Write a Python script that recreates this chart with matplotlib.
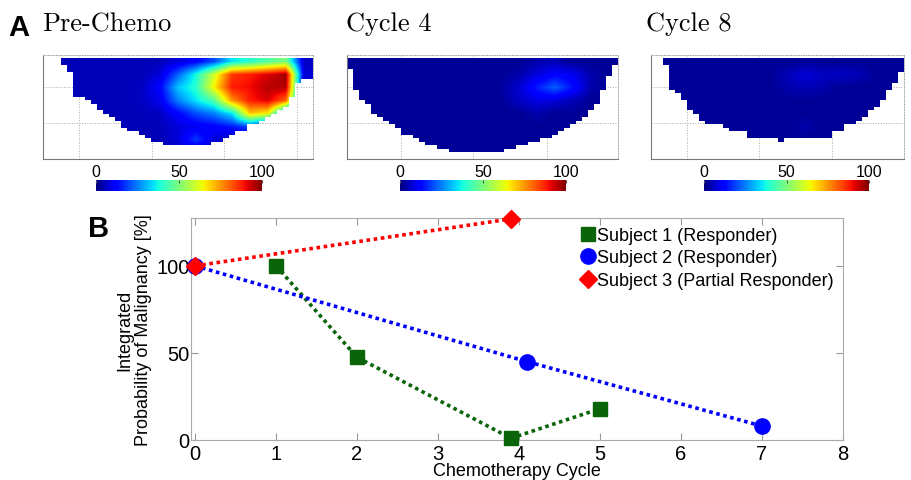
import numpy as np
import matplotlib
matplotlib.use('Agg')
import matplotlib.pyplot as plt
from matplotlib.lines import Line2D
from matplotlib.patches import Polygon
from matplotlib.cm import ScalarMappable
from matplotlib.colors import Normalize

plt.rcParams['font.family'] = ['Liberation Sans', 'DejaVu Sans']

# ---- panel B: integrated probability of malignancy ----
cycles_s1 = [1, 2, 3.9, 5]
prob_s1 = [100, 47.5, 1, 18]
cycles_s2 = [0, 4.1, 7]
prob_s2 = [100, 45, 8]
cycles_s3 = [0, 3.9]
prob_s3 = [100, 127]
labels = ['Subject 1 (Responder)', 'Subject 2 (Responder)',
          'Subject 3 (Partial Responder)']

# ---- panel A: probability maps (coarse 8 x N grids, percent) ----
map_titles = ['Pre-Chemo', 'Cycle 4', 'Cycle 8']

pre_vals = [
    [5, 5, 5, 5, 5, 5, 5, 8, 12, 20, 35, 40, 45, 50, 6],
    [5, 5, 5, 5, 5, 5, 8, 22, 38, 60, 85, 88, 92, 97, 8],
    [5, 5, 5, 5, 5, 6, 12, 32, 40, 65, 88, 90, 95, 95, 6],
    [5, 5, 5, 5, 5, 6, 10, 25, 35, 45, 75, 88, 92, 80, 5],
    [5, 5, 5, 5, 5, 5, 6, 12, 20, 25, 35, 70, 65, 20, 5],
    [5, 5, 5, 5, 5, 5, 5, 8, 10, 12, 15, 20, 8, 5, 5],
    [5, 5, 5, 5, 5, 5, 5, 8, 18, 8, 5, 5, 5, 5, 5],
    [5, 5, 5, 5, 5, 5, 5, 5, 5, 5, 5, 5, 5, 5, 5],
]
cyc4_vals = [
    [2, 2, 2, 2, 2, 2, 2, 2, 2, 2, 4, 5, 2, 2, 2],
    [2, 2, 2, 2, 2, 2, 2, 2, 2, 4, 8, 12, 10, 4, 2],
    [2, 2, 2, 2, 2, 2, 2, 2, 3, 7, 15, 22, 14, 4, 2],
    [2, 2, 2, 2, 2, 2, 2, 2, 2, 6, 9, 8, 5, 2, 2],
    [2, 2, 2, 2, 2, 2, 2, 2, 2, 2, 4, 2, 2, 2, 2],
    [2, 2, 2, 2, 2, 2, 2, 2, 2, 2, 2, 2, 2, 2, 2],
    [2, 2, 2, 2, 2, 2, 2, 2, 2, 2, 2, 2, 2, 2, 2],
    [2, 2, 2, 2, 2, 2, 2, 2, 2, 2, 2, 2, 2, 2, 2],
]
cyc8_vals = [
    [2, 2, 2, 2, 2, 2, 2, 2, 2, 2, 2, 2, 2, 2],
    [2, 2, 2, 2, 2, 2, 2, 5, 8, 6, 6, 5, 2, 2],
    [2, 2, 2, 2, 2, 2, 2, 4, 5, 4, 2, 2, 2, 2],
    [2, 2, 2, 2, 2, 2, 2, 2, 2, 2, 2, 2, 2, 2],
    [2, 2, 2, 2, 2, 2, 2, 2, 2, 2, 2, 2, 2, 2],
    [2, 2, 2, 2, 2, 2, 2, 2, 4, 2, 2, 2, 2, 2],
    [2, 2, 2, 2, 2, 2, 2, 2, 2, 2, 2, 2, 2, 2],
    [2, 2, 2, 2, 2, 2, 2, 2, 2, 2, 2, 2, 2, 2],
]

# lowest filled row of the breast outline, per image column
pre_bottom = [0, 0, 0, 3, 5, 12, 12, 13, 14, 16, 17, 18, 19, 21, 22, 22, 23,
              24, 25, 25, 26, 26, 26, 26, 26, 26, 26, 26, 25, 25, 24, 23, 22,
              22, 20, 20, 19, 18, 17, 16, 15, 12, 8, 7, 7]
cyc4_bottom = [4, 10, 13, 14, 17, 18, 19, 20, 21, 23, 23, 24, 25, 26, 26, 27,
               27, 28, 28, 28, 28, 28, 28, 28, 28, 28, 27, 27, 26, 26, 25, 25,
               24, 24, 23, 22, 21, 20, 19, 18, 16, 14, 10, 6, 3]
cyc8_bottom = [0, 0, 3, 10, 11, 13, 16, 17, 19, 20, 20, 20, 21, 22, 22, 22,
               24, 24, 24, 24, 24, 25, 24, 24, 24, 24, 24, 24, 24, 24, 22, 22,
               20, 20, 19, 18, 16, 15, 13, 10, 8, 5]

W, H = 911, 481


def box(l, t, r, b):
    return [l / W, 1 - b / H, (r - l) / W, (b - t) / H]


def draw_map(ax, vals, bottom, xgrid):
    ncol, nrow = len(bottom), 30
    im = ax.imshow(np.array(vals, float), cmap='jet', vmin=0, vmax=100,
                   interpolation='bilinear', extent=(0, ncol, nrow, 0),
                   aspect='auto', zorder=2)
    cols = [i for i, b in enumerate(bottom) if b > 1]
    verts = [(cols[0], 1), (cols[-1] + 1, 1)]
    for i in reversed(cols):
        verts += [(i + 1, bottom[i]), (i, bottom[i])]
    im.set_clip_path(Polygon(verts, closed=True, transform=ax.transData))
    ax.set_xlim(0, ncol)
    ax.set_ylim(nrow, 0)
    ax.set_xticks(xgrid)
    ax.set_yticks([9.2, 19.6])
    ax.tick_params(length=0, labelbottom=False, labelleft=False)
    ax.grid(True, ls=':', color='#aaaaaa', lw=0.7)
    ax.set_axisbelow(True)
    for s in ['left', 'bottom']:
        ax.spines[s].set_color('#777777')
        ax.spines[s].set_linewidth(0.8)
    for s in ['top', 'right']:
        ax.spines[s].set_linestyle(':')
        ax.spines[s].set_color('#aaaaaa')
        ax.spines[s].set_linewidth(0.7)


fig = plt.figure(figsize=(9.11, 4.81), dpi=100)

map_boxes = [(43, 56, 313, 160), (347, 56, 618, 160), (651, 56, 904, 160)]
cbar_boxes = [(96, 181, 262, 192), (400, 181, 566, 192), (704, 181, 869, 192)]
title_x = [42, 346, 646]
grids = [[6, 18.2, 30.2, 42.3], [9, 21, 33.2], [6, 17.9, 30.0]]
all_vals = [pre_vals, cyc4_vals, cyc8_vals]
all_bottoms = [pre_bottom, cyc4_bottom, cyc8_bottom]

for k in range(3):
    ax = fig.add_axes(box(*map_boxes[k]))
    draw_map(ax, all_vals[k], all_bottoms[k], grids[k])
    fig.text(title_x[k] / W, 1 - 31 / H, map_titles[k], family='cmr10',
             fontsize=19, va='baseline', ha='left')
    cax = fig.add_axes(box(*cbar_boxes[k]))
    cb = fig.colorbar(ScalarMappable(Normalize(0, 100), 'jet'), cax=cax,
                      orientation='horizontal', ticks=[0, 50, 100])
    cb.outline.set_visible(False)
    cax.xaxis.set_ticks_position('top')
    cax.tick_params(labelsize=11.5, length=2, pad=1, direction='in',
                    color='#555555')

fig.text(8 / W, 1 - 36 / H, 'A', fontsize=21, fontweight='bold',
         va='baseline')
fig.text(88 / W, 1 - 237 / H, 'B', fontsize=21, fontweight='bold',
         va='baseline')

# ---- panel B ----
green, blue, red = '#0a650a', '#0000ff', '#ff0000'
ls = (0, (1, 1))
ax = fig.add_axes(box(191, 219, 843, 441))
ax.plot(cycles_s1, prob_s1, color=green, ls=ls, lw=2.6, marker='s', ms=9.5,
        clip_on=False, zorder=3)
ax.plot(cycles_s2, prob_s2, color=blue, ls=ls, lw=2.6, marker='o', ms=11,
        clip_on=False, zorder=3)
ax.plot(cycles_s3, prob_s3, color=red, ls=ls, lw=2.6, marker='D', ms=9,
        clip_on=False, zorder=4)
ax.set_xlim(-0.05, 8)
ax.set_ylim(0, 127.5)
ax.set_xticks(range(9))
ax.set_yticks([0, 50, 100])
ax.tick_params(direction='in', top=True, right=True, color='#999999',
               length=5, labelsize=14.5)
ax.tick_params(axis='y', pad=1)
ax.tick_params(axis='x', pad=3)
for s in ax.spines.values():
    s.set_color('#aaaaaa')
ax.set_xlabel('Chemotherapy Cycle', fontsize=13, labelpad=-1)
ax.set_ylabel('Integrated\nProbability of Malignancy [%]', fontsize=13,
              labelpad=3, linespacing=1.15)

handles = [Line2D([], [], ls='none', marker='s', ms=9.5, color=green),
           Line2D([], [], ls='none', marker='o', ms=11, color=blue),
           Line2D([], [], ls='none', marker='D', ms=9, color=red)]
ax.legend(handles, labels, loc='upper right', frameon=False, fontsize=13,
          handlelength=0.7, handletextpad=0.15, labelspacing=0.3,
          borderaxespad=0.3, borderpad=0.2)

fig.savefig('out.png', dpi=100)
